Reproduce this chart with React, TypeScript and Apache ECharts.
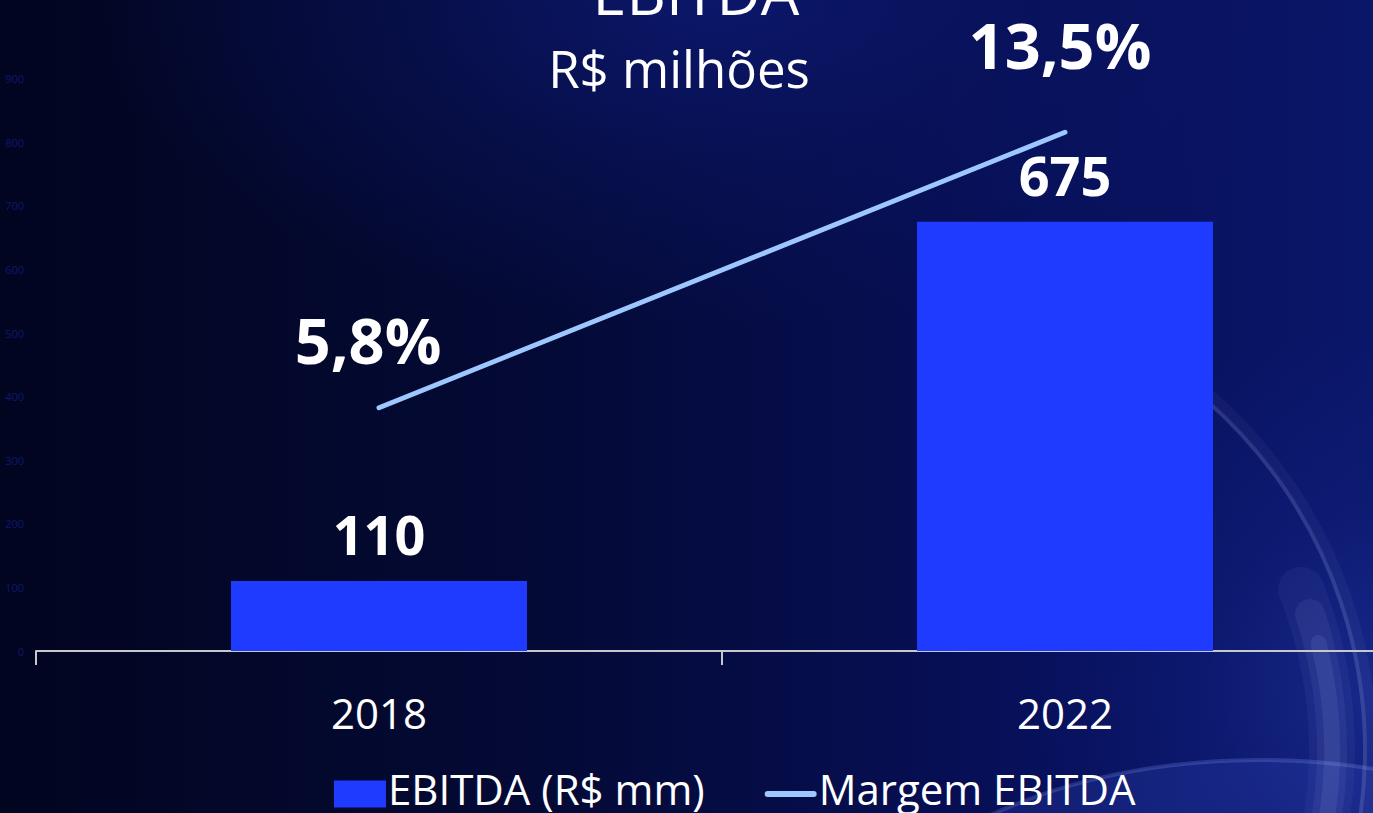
import React, { useEffect, useRef } from "react";
import * as echarts from "echarts";

const categories = ["2018", "2022"];
const ebitdaValues = [110, 675];
const marginValues = [5.8, 13.5];
const marginLabels = ["5,8%", "13,5%"];
const yTicks = { min: 0, max: 900, interval: 100 };

const FONT = "'Open Sans', 'Noto Sans', sans-serif";
const BAR_ICON = "path://M0,0 M52,39 M0,12 L52,12 L52,39 L0,39 Z";
const LINE_ICON = "path://M0,0 M52,39 M3,22.5 L49,22.5 A3,3 0 0 1 49,28.5 L3,28.5 A3,3 0 0 1 3,22.5 Z";

const glowArc = (r: number, w: number, a: number, s: number, e: number) => ({
  type: "arc",
  shape: { cx: 900, cy: 750, r, startAngle: s, endAngle: e },
  style: { fill: "none", stroke: `rgba(190,205,255,${a})`, lineWidth: w, lineCap: "round" },
  silent: true,
  z: -10,
});

export default function App() {
  const ref = useRef<HTMLDivElement>(null);
  useEffect(() => {
    if (!ref.current) return;
    const chart = echarts.init(ref.current, undefined, { renderer: "svg" });
    chart.setOption({
      animation: false,
      backgroundColor: "transparent",
      textStyle: { fontFamily: FONT },
      graphic: [
        {
          type: "ellipse",
          shape: { cx: 1260, cy: 1010, rx: 430, ry: 250 },
          style: { fill: "rgba(45,65,180,0.3)", stroke: "rgba(140,165,255,0.22)", lineWidth: 4 },
          silent: true,
          z: -10,
        },
        glowArc(465, 4, 0.14, -0.85, 0.2),
        glowArc(470, 14, 0.05, -0.85, 0.2),
        glowArc(432, 46, 0.05, -0.38, 0.25),
        glowArc(432, 30, 0.07, -0.32, 0.25),
        glowArc(432, 16, 0.09, -0.25, 0.25),
        {
          type: "text",
          x: 696,
          y: 22,
          style: { text: "EBITDA", fill: "#ffffff", font: `400 61px ${FONT}`, textAlign: "center", textVerticalAlign: "bottom" },
        },
        {
          type: "text",
          x: 679,
          y: 68,
          style: { text: "R$ milhões", fill: "#ffffff", font: `400 51px ${FONT}`, textAlign: "center", textVerticalAlign: "middle" },
        },
      ],
      legend: {
        left: 329,
        top: 762,
        itemWidth: 52,
        itemHeight: 39,
        itemGap: 60,
        textStyle: { color: "#ffffff", fontSize: 42, fontFamily: FONT, padding: [0, 0, 8, -3] },
        data: [
          { name: "EBITDA (R$ mm)", icon: BAR_ICON },
          { name: "Margem EBITDA", icon: LINE_ICON },
        ],
      },
      grid: { left: 36, right: 0, top: 78.6, bottom: 813 - 651, containLabel: false },
      xAxis: {
        type: "category",
        data: categories,
        axisLine: { lineStyle: { color: "#c8c8cc", width: 2 } },
        axisTick: { show: true, length: 14, lineStyle: { color: "#c8c8cc", width: 2 } },
        axisLabel: { color: "#ffffff", fontSize: 42, fontFamily: FONT, margin: 40 },
      },
      yAxis: [
        {
          type: "value",
          min: yTicks.min,
          max: yTicks.max,
          interval: yTicks.interval,
          axisLine: { show: false },
          axisTick: { show: false },
          splitLine: { show: false },
          axisLabel: { color: "#0c186e", fontSize: 11, margin: 12 },
        },
        {
          type: "value",
          min: -1,
          max: 15,
          show: false,
          splitLine: { show: false },
        },
      ],
      series: [
        {
          name: "EBITDA (R$ mm)",
          type: "bar",
          data: ebitdaValues,
          barWidth: 296,
          itemStyle: { color: "#1f3bff" },
          label: {
            show: true,
            position: "top",
            distance: 20,
            color: "#ffffff",
            fontSize: 54,
            fontWeight: "bold",
            fontFamily: FONT,
          },
        },
        {
          name: "Margem EBITDA",
          type: "line",
          yAxisIndex: 1,
          data: marginValues,
          symbol: "none",
          lineStyle: { color: "#9dc8ff", width: 5, cap: "round" },
          itemStyle: { color: "#9dc8ff" },
          z: 5,
        },
        {
          name: "margin-labels",
          type: "scatter",
          yAxisIndex: 1,
          symbolSize: 0,
          silent: true,
          z: 6,
          itemStyle: { opacity: 1, color: "#ffffff" },
          data: marginValues.map((v, i) => ({
            value: v,
            label: {
              show: true,
              position: "top",
              distance: i === 0 ? 37 : 56,
              offset: i === 0 ? [-11, 0] : [-5, 0],
              formatter: marginLabels[i],
              color: "#ffffff",
              opacity: 1,
              fontSize: 63,
              fontWeight: "bold",
              fontFamily: FONT,
            },
          })),
        },
      ],
    });
    return () => chart.dispose();
  }, []);

  return (
    <div
      style={{
        position: "fixed",
        left: 0,
        top: 0,
        width: 1373,
        height: 813,
        overflow: "hidden",
        background:
          "radial-gradient(ellipse 45% 40% at 52% 0%, rgba(12,24,110,0.9) 0%, rgba(10,20,95,0.5) 50%, rgba(0,0,0,0) 100%), radial-gradient(ellipse 25% 45% at 100% 85%, rgba(35,55,165,0.55) 0%, rgba(20,38,140,0.3) 50%, rgba(0,0,0,0) 100%), linear-gradient(90deg, #020520 0%, #040a36 40%, #07105a 75%, #0a1668 100%)",
      }}
    >
      <div ref={ref} style={{ width: 1408, height: 813 }} />
    </div>
  );
}
